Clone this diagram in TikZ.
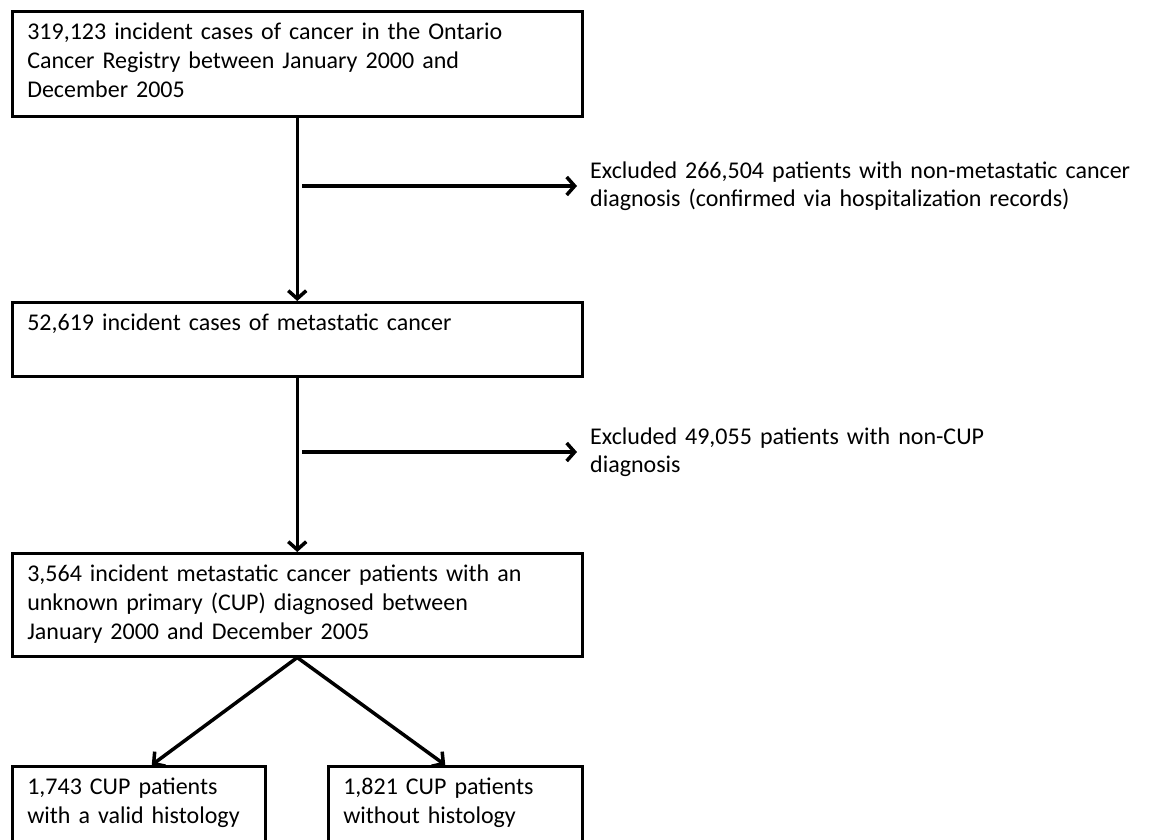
\documentclass[tikz,border=0pt]{standalone}
\usepackage{fontspec}
\setmainfont{Carlito}
\usetikzlibrary{arrows.meta}
\usetikzlibrary{calc}

\tikzset{
  stage/.style={draw, line width=2.5pt, anchor=north west, align=left,
    text width=#1, inner xsep=15pt, inner ysep=0pt, text height=28pt,
    font=\fontsize{24}{29}\selectfont},
  excl/.style={anchor=west, align=left, text width=570pt, inner xsep=13pt,
    inner ysep=0pt, font=\fontsize{24}{28}\selectfont},
  flow/.style={line width=3.5pt, -{Straight Barb[length=8pt,width=18pt]}}
}

\begin{document}
\begin{tikzpicture}[x=1pt,y=-1pt]
  \useasboundingbox (0,0) rectangle (1149,839);
  \clip (0,0) rectangle (1149,839);

  % main boxes
  \node[stage=540pt, text depth=77pt] (reg) at (11,10)
    {319,123 incident cases of cancer in the Ontario\\Cancer Registry between January 2000 and\\December 2005};
  \node[stage=540pt, text depth=46pt] (meta) at (11,301)
    {52,619 incident cases of metastatic cancer};
  \node[stage=540pt, text depth=75pt] (cup) at (11,552)
    {3,564 incident metastatic cancer patients with an\\unknown primary (CUP) diagnosed between\\January 2000 and December 2005};
  \node[stage=223pt, text depth=110pt] (hist) at (11,765)
    {1,743 CUP patients\\with a valid histology};
  \node[stage=224pt, text depth=110pt] (nohist) at (327,765)
    {1,821 CUP patients\\without histology};

  % exclusions
  \node[excl] (exA) at (577,186)
    {Excluded 266,504 patients with non-metastatic cancer\\diagnosis (confirmed via hospitalization records)};
  \node[excl] (exB) at (577,452)
    {Excluded 49,055 patients with non-CUP\\diagnosis};
  \coordinate (splitA) at (302,186);
  \coordinate (splitB) at (302,452);

  % arrows
  \draw[flow] (reg.south) -- (meta.north);
  \draw[flow] (splitA) -- (exA.west);
  \draw[flow] (meta.south) -- (cup.north);
  \draw[flow] (splitB) -- (exB.west);
  \draw[flow] (cup.south) -- ([xshift=13pt]hist.north);
  \draw[flow] (cup.south) -- ([xshift=-10pt]nohist.north);

\end{tikzpicture}
\end{document}
